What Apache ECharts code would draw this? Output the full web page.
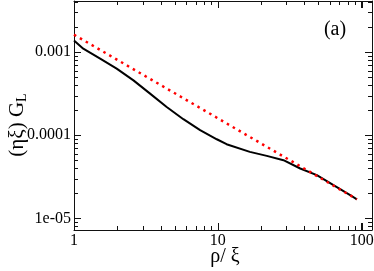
<!DOCTYPE html>
<html>
<head>
<meta charset="utf-8">
<script src="https://cdn.jsdelivr.net/npm/echarts@6/dist/echarts.min.js"></script>
<style>
html,body{margin:0;padding:0;background:#fff;}
#c{width:374px;height:271px;}
</style>
</head>
<body>
<div id="c"></div>
<script>
// ---- data ----
const simRho = [1, 1.16, 1.52, 1.98, 2.59, 3.38, 4.41, 5.76, 7.53, 9.84, 11.5, 16.7, 21.9, 28.6, 37.4, 48.8, 63.7, 83.2, 92.6];
const simG   = [1.38e-3, 1.10e-3, 8.33e-4, 6.33e-4, 4.57e-4, 3.17e-4, 2.19e-4, 1.56e-4, 1.15e-4, 8.95e-5, 7.80e-5, 6.31e-5, 5.65e-5, 5.01e-5, 3.98e-5, 3.31e-5, 2.51e-5, 1.91e-5, 1.69e-5];
const fitRho = [1, 10, 92.6];
const fitG   = [1.62e-3, 1.60e-4, 1.70e-5];
const xTickValues = [1, 10, 100];
const xTickLabels = ['1', '10', '100'];
const yTickValues = [1e-5, 1e-4, 1e-3];
const yTickLabels = ['1e-05', '0.0001', '0.001'];
const xRange = [1, 118];
const yRange = [7.25e-6, 4.12e-3];
const xTitle = 'ρ/ ξ';
const yTitle = '(ηξ) G{sub|L}';
const panelLabel = '(a)';

const L = Math.log10;
const xMin = L(xRange[0]), xMax = L(xRange[1]);
const yMin = L(yRange[0]), yMax = L(yRange[1]);

function minorLogs(lo, hi) {
  const out = [];
  for (let n = Math.floor(lo) - 1; n <= Math.ceil(hi); n++) {
    for (let k = 2; k <= 9; k++) {
      const v = n + L(k);
      if (v > lo && v < hi) out.push(v);
    }
  }
  return out;
}
const xMajor = xTickValues.map(L), yMajor = yTickValues.map(L);
const xMinor = minorLogs(xMin, xMax), yMinor = minorLogs(yMin, yMax);

const axisColor = '#111';
const font = '"Liberation Serif", "Times New Roman", serif';

function labelFor(v, vals, labs) {
  for (let i = 0; i < vals.length; i++) if (Math.abs(L(vals[i]) - v) < 1e-6) return labs[i];
  return '';
}

// tick marks (inside, on all four sides): [x, y, length, direction]
// direction: 0 up (bottom edge), 1 down (top edge), 2 right (left edge), 3 left (right edge)
const MAJ = 7, MIN = 4;
const tickRows = [];
xMajor.forEach(v => { tickRows.push([v, yMin, MAJ, 0]); tickRows.push([v, yMax, MAJ, 1]); });
xMinor.forEach(v => { tickRows.push([v, yMin, MIN, 0]); tickRows.push([v, yMax, MIN, 1]); });
yMajor.forEach(v => { tickRows.push([xMin, v, MAJ, 2]); tickRows.push([xMax, v, MAJ, 3]); });
yMinor.forEach(v => { tickRows.push([xMin, v, MIN, 2]); tickRows.push([xMax, v, MIN, 3]); });

function renderTick(params, api) {
  const p = api.coord([api.value(0), api.value(1)]);
  const len = api.value(2), dir = api.value(3);
  let x1, y1, x2, y2;
  if (dir === 0 || dir === 1) {
    x1 = x2 = Math.round(p[0]) + 0.5;
    y1 = p[1];
    y2 = dir === 0 ? p[1] - len : p[1] + len;
  } else {
    y1 = y2 = Math.round(p[1]) + 0.5;
    x1 = p[0];
    x2 = dir === 2 ? p[0] + len : p[0] - len;
  }
  return {
    type: 'line',
    shape: { x1: x1, y1: y1, x2: x2, y2: y2 },
    style: { stroke: axisColor, lineWidth: 1 }
  };
}

function mkAxis(dim, pos, showLabel) {
  const isX = dim === 'x';
  const ticks = isX ? xMajor : yMajor;
  return {
    type: 'value',
    position: pos,
    min: isX ? xMin : yMin,
    max: isX ? xMax : yMax,
    splitLine: { show: false },
    axisLine: { show: true, onZero: false, lineStyle: { color: axisColor, width: 1 } },
    axisTick: { show: true, inside: true, length: MAJ, customValues: ticks, lineStyle: { color: axisColor, width: 1 } },
    axisLabel: {
      show: showLabel,
      customValues: ticks,
      margin: 3,
      color: '#000',
      fontFamily: font,
      fontSize: 16,
      formatter: v => isX ? labelFor(v, xTickValues, xTickLabels) : labelFor(v, yTickValues, yTickLabels)
    }
  };
}

const chart = echarts.init(document.getElementById('c'));
chart.setOption({
  animation: false,
  backgroundColor: '#fff',
  grid: { left: 74, right: 2, top: 1, bottom: 41, containLabel: false, outerBoundsMode: 'none' },
  xAxis: [mkAxis('x', 'bottom', true), mkAxis('x', 'top', false)],
  yAxis: [mkAxis('y', 'left', true), mkAxis('y', 'right', false)],
  graphic: [
    {
      type: 'text', x: 335, y: 30,
      style: { text: panelLabel, font: '20px ' + font, fill: '#000', align: 'center', verticalAlign: 'middle' }
    },
    {
      type: 'text', x: 225, y: 257,
      style: { text: xTitle, font: '20px ' + font, fill: '#000', align: 'center', verticalAlign: 'middle' }
    },
    {
      type: 'text', x: 17, y: 125, rotation: Math.PI / 2,
      style: {
        text: yTitle, font: '21px ' + font, fill: '#000', align: 'center', verticalAlign: 'middle',
        rich: { sub: { fontSize: 14, fontFamily: font, fill: '#000', padding: [10, 0, 0, 0] } }
      }
    }
  ],
  series: [
    {
      type: 'custom', clip: false, renderItem: renderTick, data: tickRows, z: 3
    },
    {
      type: 'line', symbol: 'none', smooth: false,
      data: simRho.map((r, i) => [L(r), L(simG[i])]),
      lineStyle: { color: '#000', width: 2 }
    },
    {
      type: 'line', symbol: 'none',
      data: fitRho.map((r, i) => [L(r), L(fitG[i])]),
      lineStyle: { color: '#ff0000', width: 2.5, type: [2.5, 4.3], cap: 'butt' }
    }
  ]
});
</script>
</body>
</html>
